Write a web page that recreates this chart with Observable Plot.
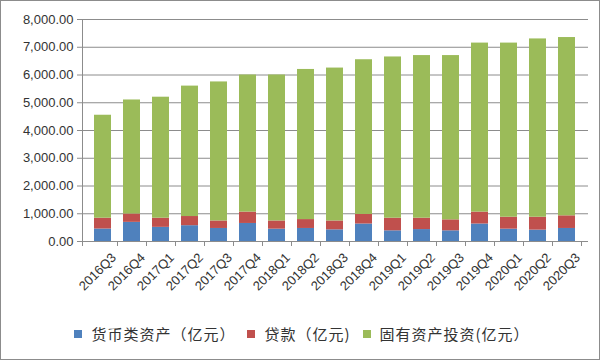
<!DOCTYPE html>
<html><head><meta charset="utf-8">
<script src="https://cdn.jsdelivr.net/npm/d3@7"></script>
<script src="https://cdn.jsdelivr.net/npm/@observablehq/plot@0.6"></script>
<style>
body{margin:0;background:#fff;}
#wrap{width:600px;height:360px;box-sizing:border-box;border:1px solid #8c8c8c;position:relative;overflow:hidden;font-family:"Liberation Sans","Noto Sans CJK SC",sans-serif;}
#legend{position:absolute;left:0;top:322px;width:598px;display:flex;justify-content:center;align-items:center;font-family:"Noto Sans CJK SC",sans-serif;font-size:15px;letter-spacing:1px;color:#333;padding-left:16px;box-sizing:border-box;}
#legend span.sw{display:inline-block;width:8px;height:8px;margin-right:9px;}
#legend span.it{display:inline-flex;align-items:center;margin-right:12px;}
</style>
</head><body>
<div id="wrap"><div id="chart"></div><div id="legend"></div></div>
<script>
const categories = ["2016Q3","2016Q4","2017Q1","2017Q2","2017Q3","2017Q4","2018Q1","2018Q2","2018Q3","2018Q4","2019Q1","2019Q2","2019Q3","2019Q4","2020Q1","2020Q2","2020Q3"];
const totals = [4550,5100,5200,5600,5750,6000,6000,6200,6250,6550,6650,6700,6700,7150,7150,7300,7350];
const money = [450,690,510,570,470,650,445,470,420,630,385,430,385,630,445,410,470];
const loans = [390,300,330,330,270,410,295,320,320,345,455,410,395,430,430,465,455];
const fixed = totals.map((t,i)=>t-money[i]-loans[i]);
const seriesNames = ["货币类资产（亿元）","贷款（亿元)","固有资产投资(亿元）"];
const colors = ["#4F81BD","#C0504D","#9BBB59"];
const yTicks = [0,1000,2000,3000,4000,5000,6000,7000,8000];

const seriesValues = [money, loans, fixed];
const rows = [];
categories.forEach((c,i)=>seriesValues.forEach((arr,s)=>rows.push({cat:c, series:seriesNames[s], value:arr[i]})));

const plot = Plot.plot({
  width: 598, height: 318,
  marginLeft: 81, marginRight: 11, marginTop: 18, marginBottom: 78,
  style: {fontFamily: "'Liberation Sans','DejaVu Sans',sans-serif", color:"#333"},
  x: {domain: categories, padding: 0.4, label: null},
  y: {domain: [0,8000], label: null},
  color: {domain: seriesNames, range: colors},
  marks: [
    Plot.gridY(yTicks, {stroke:"#8c8c8c", strokeOpacity:1}),
    Plot.barY(rows, {x:"cat", y:"value", fill:"series"}),
    Plot.axisY(yTicks, {tickFormat: d3.format(",.2f"), tickSize: 5, stroke:"#8c8c8c", fontSize: 13, fill:"#333", label:null, tickPadding: 4}),
    Plot.axisX({tickSize: 0, tickRotate: -45, fontSize: 13, fill:"#333", label:null, tickPadding: 6, dx: 11, dy: 8})
  ]
});
document.getElementById("chart").appendChild(plot);

// axis lines and category-boundary ticks via the library's scales
const xs = plot.scale("x"), ys = plot.scale("y");
const y0 = ys.apply(0), yTop = ys.apply(8000);
const svg = d3.select(plot);
const g = svg.append("g").attr("stroke","#8c8c8c").attr("stroke-width",1);
const left = xs.range[0], right = xs.range[1];
g.append("line").attr("x1",left+0.5).attr("x2",left+0.5).attr("y1",yTop).attr("y2",y0+5);
g.append("line").attr("x1",left).attr("x2",right).attr("y1",y0+0.5).attr("y2",y0+0.5);
const step = xs.step;
categories.forEach((c,i)=>{
  const xb = xs.apply(c) - (step - xs.bandwidth)/2 + step;
  g.append("line").attr("x1",Math.round(xb)+0.5).attr("x2",Math.round(xb)+0.5).attr("y1",y0).attr("y2",y0+5);
});

const lg = document.getElementById("legend");
seriesNames.forEach((n,i)=>{
  const it = document.createElement("span"); it.className="it";
  const sw = document.createElement("span"); sw.className="sw"; sw.style.background=colors[i];
  it.appendChild(sw); it.appendChild(document.createTextNode(n)); lg.appendChild(it);
});
</script>
</body></html>
